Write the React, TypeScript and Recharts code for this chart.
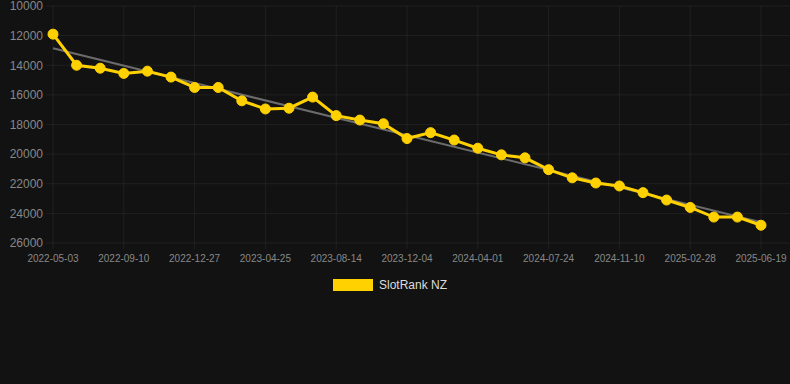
import { LineChart, Line, XAxis, YAxis, CartesianGrid, Legend } from 'recharts';

const DATES = [
  '2022-05-03', '2022-06-18', '2022-08-01', '2022-09-10', '2022-10-22', '2022-11-30',
  '2022-12-27', '2023-02-08', '2023-03-18', '2023-04-25', '2023-06-01', '2023-07-08',
  '2023-08-14', '2023-09-20', '2023-10-28', '2023-12-04', '2024-01-12', '2024-02-22',
  '2024-04-01', '2024-05-10', '2024-06-16', '2024-07-24', '2024-08-30', '2024-10-05',
  '2024-11-10', '2024-12-18', '2025-01-23', '2025-02-28', '2025-04-08', '2025-05-14',
  '2025-06-19',
];

const RANKS = [
  11900, 14000, 14200, 14550, 14400, 14800, 15500, 15500, 16400, 16950, 16900, 16150,
  17400, 17700, 17950, 18950, 18550, 19050, 19600, 20050, 20250, 21050, 21600, 21950,
  22150, 22600, 23100, 23600, 24250, 24250, 24800,
];

// trend line, only its two ends
const TREND_START = 12850;
const TREND_END = 24600;

const Y_TICKS = [10000, 12000, 14000, 16000, 18000, 20000, 22000, 24000, 26000];

const YELLOW = '#ffd100';
const GRID = 'rgba(255,255,255,0.06)';
const FONT = '"Liberation Sans", Arial, sans-serif';

const data = DATES.map((date, i) => ({
  date,
  rank: RANKS[i],
  trend: i === 0 ? TREND_START : i === DATES.length - 1 ? TREND_END : null,
}));

function LegendContent() {
  return (
    <div style={{ display: 'flex', justifyContent: 'center', alignItems: 'center', height: 20, paddingRight: 10, fontFamily: FONT }}>
      <span style={{ width: 40, height: 12, background: YELLOW, display: 'inline-block', marginRight: 6 }} />
      <span style={{ fontSize: 12, color: '#dddddd' }}>SlotRank NZ</span>
    </div>
  );
}

export default function App() {
  return (
    <div style={{ position: 'fixed', top: 0, left: 0, width: 790, height: 384, background: '#121212', fontFamily: FONT }}>
      <LineChart width={790} height={384} data={data} margin={{ top: 6, right: 0, bottom: 89, left: 0 }}>
        <CartesianGrid stroke={GRID} syncWithTicks />
        <XAxis
          dataKey="date"
          interval={2}
          height={32}
          padding={{ left: 7, right: 29 }}
          axisLine={false}
          tickLine={{ stroke: GRID }}
          tickSize={6}
          tickMargin={6}
          tick={{ fill: '#888888', fontSize: 10, fontFamily: FONT }}
        />
        <YAxis
          reversed
          domain={[10000, 26000]}
          ticks={Y_TICKS}
          interval={0}
          width={46}
          axisLine={false}
          tickLine={false}
          tickSize={0}
          tickMargin={3}
          tick={{ fill: '#888888', fontSize: 12, fontFamily: FONT }}
        />
        <Legend verticalAlign="bottom" content={<LegendContent />} />
        <Line
          dataKey="trend"
          connectNulls
          stroke="#6b6b6b"
          strokeWidth={2}
          dot={false}
          activeDot={false}
          isAnimationActive={false}
          legendType="none"
        />
        <Line
          dataKey="rank"
          name="SlotRank NZ"
          stroke={YELLOW}
          strokeWidth={3}
          dot={{ r: 5, fill: YELLOW, stroke: YELLOW, strokeWidth: 1 }}
          isAnimationActive={false}
        />
      </LineChart>
    </div>
  );
}
